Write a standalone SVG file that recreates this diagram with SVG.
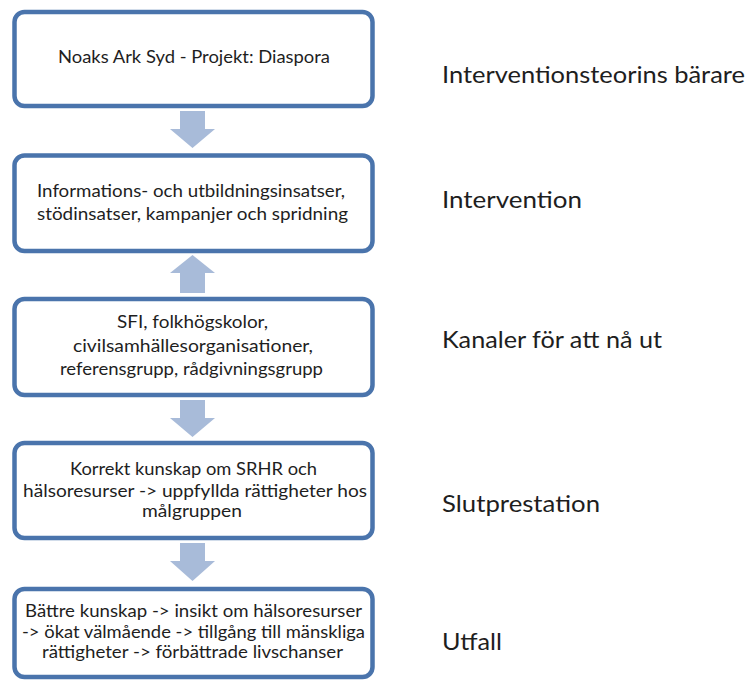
<svg xmlns="http://www.w3.org/2000/svg" width="752" height="681" viewBox="0 0 752 681">
<style>
.box{fill:#fff;stroke:#4A74AC;stroke-width:4.5}
.t{font-family:Lato,"Open Sans","Liberation Sans",sans-serif;font-size:17px;fill:#1e1e1e;text-anchor:middle}
.l{font-family:Lato,"Open Sans","Liberation Sans",sans-serif;font-size:23px;fill:#1e1e1e}
.arr{fill:#A8BBD9}
</style>
<rect width="752" height="681" fill="#fff"/>
<g id="connectors">
<polygon class="arr" points="180,111 205,111 205,129 215,129 192.5,148 170,129 180,129"/>
<polygon class="arr" points="192.5,255 215,273 205,273 205,293 180,293 180,273 170,273"/>
<polygon class="arr" points="180,400 205,400 205,418 215,418 192.5,437 170,418 180,418"/>
<polygon class="arr" points="180,543 205,543 205,561 215,561 192.5,581 170,561 180,561"/>
</g>
<g id="n1">
<rect class="box" x="14.5" y="12" width="358" height="94" rx="10"/>
<text class="t" x="194" y="63" textLength="272" lengthAdjust="spacingAndGlyphs">Noaks Ark Syd - Projekt: Diaspora</text>
</g>
<g id="n2">
<rect class="box" x="14.5" y="155.5" width="358" height="95.5" rx="10"/>
<text class="t" x="191" y="197" textLength="308" lengthAdjust="spacingAndGlyphs">Informations- och utbildningsinsatser,</text>
<text class="t" x="192.5" y="220" textLength="311" lengthAdjust="spacingAndGlyphs">stödinsatser, kampanjer och spridning</text>
</g>
<g id="n3">
<rect class="box" x="14.5" y="299" width="358" height="96" rx="10"/>
<text class="t" x="192.5" y="328" textLength="151" lengthAdjust="spacingAndGlyphs">SFI, folkhögskolor,</text>
<text class="t" x="193" y="352" textLength="240" lengthAdjust="spacingAndGlyphs">civilsamhällesorganisationer,</text>
<text class="t" x="191.5" y="375" textLength="263" lengthAdjust="spacingAndGlyphs">referensgrupp, rådgivningsgrupp</text>
</g>
<g id="n4">
<rect class="box" x="14.5" y="443" width="358" height="95" rx="10"/>
<text class="t" x="193.5" y="475" textLength="247" lengthAdjust="spacingAndGlyphs">Korrekt kunskap om SRHR och</text>
<text class="t" x="195" y="497" textLength="344" lengthAdjust="spacingAndGlyphs">hälsoresurser  -&gt; uppfyllda rättigheter hos</text>
<text class="t" x="192" y="517" textLength="100" lengthAdjust="spacingAndGlyphs">målgruppen</text>
</g>
<g id="n5">
<rect class="box" x="14.5" y="589" width="358" height="88" rx="10"/>
<text class="t" x="193.5" y="617" textLength="337" lengthAdjust="spacingAndGlyphs">Bättre kunskap -&gt; insikt om hälsoresurser</text>
<text class="t" x="193.5" y="638" textLength="343" lengthAdjust="spacingAndGlyphs">-&gt; ökat välmående -&gt; tillgång till mänskliga</text>
<text class="t" x="192.5" y="658" textLength="301" lengthAdjust="spacingAndGlyphs">rättigheter -&gt; förbättrade livschanser</text>
</g>
<g id="labels">
<text class="l" x="442" y="83" textLength="303" lengthAdjust="spacingAndGlyphs">Interventionsteorins bärare</text>
<text class="l" x="442" y="208" textLength="140" lengthAdjust="spacingAndGlyphs">Intervention</text>
<text class="l" x="442" y="348" textLength="220" lengthAdjust="spacingAndGlyphs">Kanaler för att nå ut</text>
<text class="l" x="442" y="512" textLength="158" lengthAdjust="spacingAndGlyphs">Slutprestation</text>
<text class="l" x="442" y="650" textLength="60" lengthAdjust="spacingAndGlyphs">Utfall</text>
</g>
</svg>
